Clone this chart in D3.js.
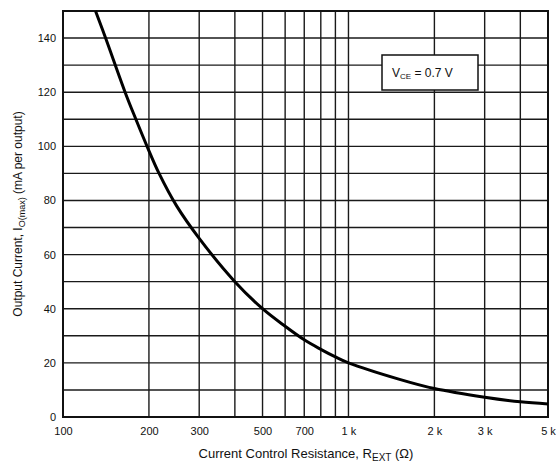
<!DOCTYPE html>
<html>
<head>
<meta charset="utf-8">
<script src="https://cdn.jsdelivr.net/npm/d3@7"></script>
<style>
  body { margin: 0; background: #fff; }
  text { font-family: "Liberation Sans", Arial, sans-serif; fill: #111; }
</style>
</head>
<body>
<script>
// values
var resistance = [130, 141, 165, 180, 197, 217, 250, 300, 400, 500, 600, 700, 800, 900, 1000, 1500, 2000, 3000, 4000, 5000];
var current = [150, 140, 120, 110, 100, 90, 78, 66, 50, 40, 33.5, 28.5, 25, 22.2, 20, 14, 10.5, 7.3, 5.6, 4.8];

var xGrid = [100, 200, 300, 400, 500, 600, 700, 800, 900, 1000, 2000, 3000, 4000, 5000];
var xTickValues = [100, 200, 300, 500, 700, 1000, 2000, 3000, 5000];
var xTickLabels = ["100", "200", "300", "500", "700", "1 k", "2 k", "3 k", "5 k"];
var yGrid = d3.range(0, 151, 10);
var yTickValues = [0, 20, 40, 60, 80, 100, 120, 140];

var w = 556, h = 464;
var padLeft = 63, padRight = 548, padTop = 11, padBottom = 417;

var svg = d3.select("body")
    .append("svg")
    .attr("width", w)
    .attr("height", h);

var xScale = d3.scaleLog()
    .domain([100, 5000])
    .range([padLeft, padRight]);
var yScale = d3.scaleLinear()
    .domain([0, 150])
    .range([padBottom, padTop]);

//grid
svg.append("g")
    .selectAll("line")
    .data(xGrid)
    .enter()
    .append("line")
    .attr("x1", function (d) { return xScale(d); })
    .attr("x2", function (d) { return xScale(d); })
    .attr("y1", padTop)
    .attr("y2", padBottom)
    .attr("stroke", "#1a1a1a")
    .attr("stroke-width", 1.4);
svg.append("g")
    .selectAll("line")
    .data(yGrid)
    .enter()
    .append("line")
    .attr("x1", padLeft)
    .attr("x2", padRight)
    .attr("y1", function (d) { return yScale(d); })
    .attr("y2", function (d) { return yScale(d); })
    .attr("stroke", "#1a1a1a")
    .attr("stroke-width", 1.4);

//frame
svg.append("rect")
    .attr("x", padLeft)
    .attr("y", padTop)
    .attr("width", padRight - padLeft)
    .attr("height", padBottom - padTop)
    .attr("fill", "none")
    .attr("stroke", "#111")
    .attr("stroke-width", 2);

//axes (labels only)
var xAxis = svg.append("g")
    .attr("transform", "translate(0," + padBottom + ")")
    .call(d3.axisBottom(xScale)
        .tickValues(xTickValues)
        .tickSize(0)
        .tickPadding(10)
        .tickFormat(function (d, i) { return xTickLabels[i]; }));
xAxis.select(".domain").remove();
xAxis.selectAll("text")
    .style("font-size", "11px")
    .attr("fill", "#111");

var yAxis = svg.append("g")
    .attr("transform", "translate(" + padLeft + ",0)")
    .call(d3.axisLeft(yScale)
        .tickValues(yTickValues)
        .tickSize(0)
        .tickPadding(7));
yAxis.select(".domain").remove();
yAxis.selectAll("text")
    .style("font-size", "11px")
    .attr("fill", "#111");

//curve
var line = d3.line()
    .x(function (d) { return xScale(d[0]); })
    .y(function (d) { return yScale(d[1]); })
    .curve(d3.curveCatmullRom.alpha(0.5));
svg.append("path")
    .datum(d3.zip(resistance, current))
    .attr("d", line)
    .attr("fill", "none")
    .attr("stroke", "#000")
    .attr("stroke-width", 3);

//annotation box
svg.append("rect")
    .attr("x", 382)
    .attr("y", 55)
    .attr("width", 96)
    .attr("height", 35)
    .attr("fill", "#fff")
    .attr("stroke", "#111")
    .attr("stroke-width", 1.5);
var note = svg.append("text")
    .attr("x", 392)
    .attr("y", 77)
    .style("font-size", "12px");
note.append("tspan").text("V");
note.append("tspan").attr("dy", 2).style("font-size", "8px").text("CE");
note.append("tspan").attr("dy", -2).text(" = 0.7 V");

//axis titles
var xt = svg.append("text")
    .attr("x", 306)
    .attr("y", 458)
    .attr("text-anchor", "middle")
    .style("font-size", "13px");
xt.append("tspan").text("Current Control Resistance, R");
xt.append("tspan").attr("dy", 3).style("font-size", "10px").text("EXT");
xt.append("tspan").attr("dy", -3).text(" (Ω)");

var yt = svg.append("text")
    .attr("transform", "translate(22," + ((padTop + padBottom) / 2) + ") rotate(-90)")
    .attr("text-anchor", "middle")
    .style("font-size", "12px");
yt.append("tspan").text("Output Current, I");
yt.append("tspan").attr("dy", 3).style("font-size", "9px").text("O(max)");
yt.append("tspan").attr("dy", -3).text(" (mA per output)");
</script>
</body>
</html>
